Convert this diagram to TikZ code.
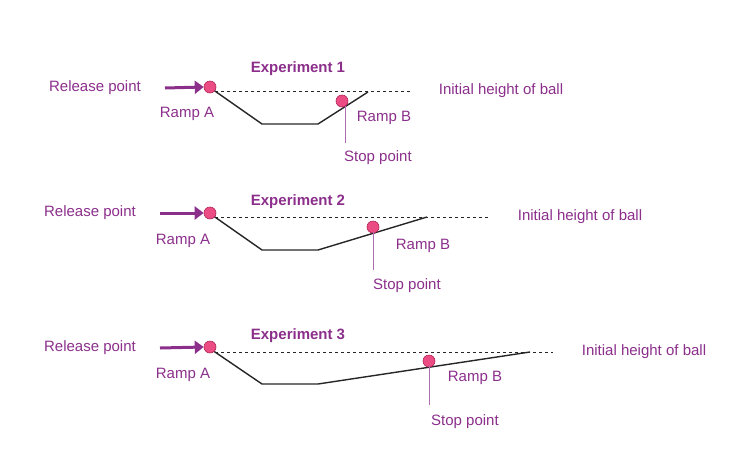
\documentclass[tikz,border=0pt]{standalone}
\usepackage{fontspec}
\setmainfont{Liberation Sans}
\usetikzlibrary{arrows.meta}
\definecolor{pur}{HTML}{8B2F8B}
\definecolor{ballc}{HTML}{EC4C84}
\definecolor{balld}{HTML}{B02458}
\begin{document}
\begin{tikzpicture}[x=1pt,y=-1pt,
  lab/.style={text=pur,font=\fontsize{15}{17}\selectfont,inner sep=0},
  ttl/.style={text=pur,font=\fontsize{15}{17}\selectfont\bfseries,inner sep=0},
  ramp/.style={draw=black!85,line width=1.4pt},
  dashln/.style={draw=black!85,dashed,line width=1pt},
  ball/.style={circle,fill=ballc,draw=balld,line width=0.6pt,minimum size=12pt,inner sep=0},
  parr/.style={draw=pur,line width=3pt,-{Triangle[length=9pt,width=13pt]}},
  stopl/.style={draw=pur!70,line width=0.7pt}]
\useasboundingbox (0,0) rectangle (750,464);
% Experiment 1
\draw[dashln] (215,91) -- (410,91);
\draw[ramp] (212,89) -- (262,124) -- (318,124) -- (368,92);
\node[ball] (r1) at (210,87) {};
\node[ball] (s1) at (342,101) {};
\coordinate (t1) at (345,143);
\draw[stopl] (345,106) -- (t1);
\node[lab] (sp1) at (378,158) {Stop point};
\node[lab] at (384,118) {Ramp B};
\node[lab] at (187,114) {Ramp A};
\node[ttl] at (298,69) {Experiment 1};
\node[lab] (rp1) at (95,88) {Release point};
\coordinate (ra1) at (165,88);
\draw[parr] (ra1) -- (r1.west);
\node[lab] at (501,91) {Initial height of ball};
% Experiment 2
\draw[dashln] (215,217) -- (490,217);
\draw[ramp] (212,215) -- (262,250) -- (318,250) -- (427,217);
\node[ball] (r2) at (210,213) {};
\node[ball] (s2) at (373,227) {};
\draw[stopl] (373,232) -- (373,270);
\node[lab] at (407,286) {Stop point};
\node[lab] at (423,246) {Ramp B};
\node[lab] at (183,241) {Ramp A};
\node[ttl] at (298,202) {Experiment 2};
\node[lab] at (90,213) {Release point};
\coordinate (ra2) at (160,213);
\draw[parr] (ra2) -- (r2.west);
\node[lab] at (580,217) {Initial height of ball};
% Experiment 3
\draw[dashln] (215,352) -- (553,352);
\draw[ramp] (212,350) -- (262,384) -- (318,384) -- (530,352);
\node[ball] (r3) at (210,347) {};
\node[ball] (s3) at (429,361) {};
\draw[stopl] (429,366) -- (429,405);
\node[lab] at (465,422) {Stop point};
\node[lab] at (475,378) {Ramp B};
\node[lab] at (183,375) {Ramp A};
\node[ttl] at (298,336) {Experiment 3};
\node[lab] at (90,348) {Release point};
\coordinate (ra3) at (160,348);
\draw[parr] (ra3) -- (r3.west);
\node[lab] at (644,352) {Initial height of ball};
\end{tikzpicture}
\end{document}
